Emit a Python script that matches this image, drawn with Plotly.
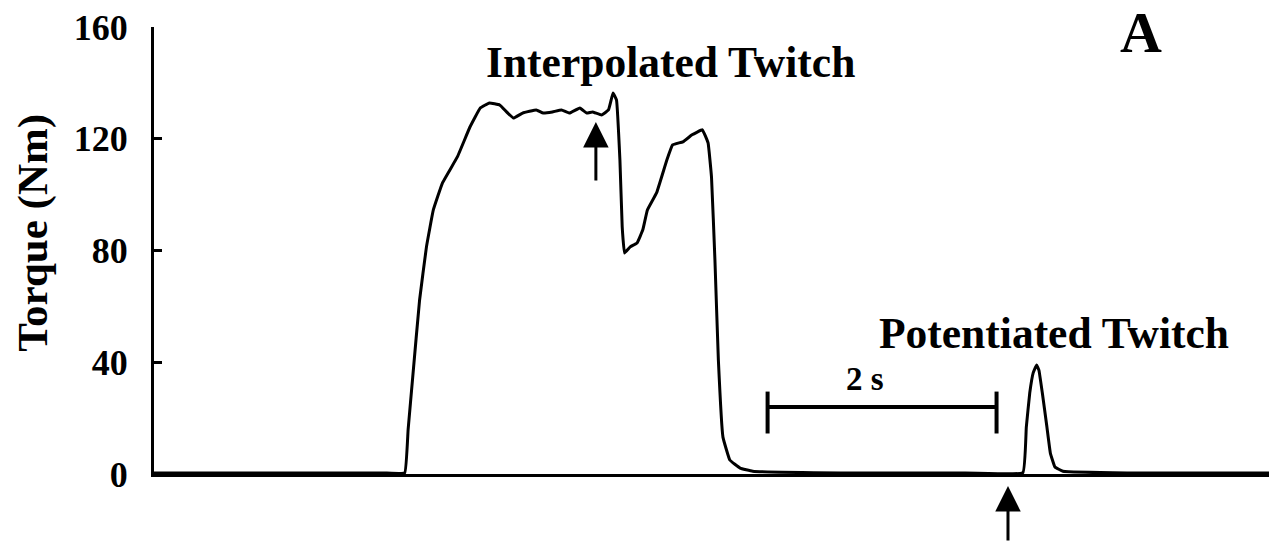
import plotly.graph_objects as go

# torque trace (time in s, torque in Nm)
time_s = [0.0, 1.0, 2.0, 2.19, 2.22, 2.26, 2.32, 2.38, 2.44, 2.52, 2.65, 2.76, 2.85, 2.93,
          3.02, 3.08, 3.14, 3.22, 3.34, 3.40, 3.48, 3.56, 3.63, 3.72, 3.78, 3.83,
          3.91, 3.97, 4.01, 4.04, 4.07, 4.09, 4.11, 4.16, 4.22, 4.27, 4.31, 4.39,
          4.48, 4.53, 4.62, 4.70, 4.79, 4.84, 4.87, 4.90, 4.93, 4.97, 5.03, 5.12,
          5.23, 6.0, 7.0, 7.59, 7.62, 7.65, 7.68, 7.71, 7.73, 7.76, 7.80, 7.83,
          7.87, 7.94, 8.5, 9.74]
torque_nm = [0.4, 0.4, 0.4, 0.4, 16.0, 34.7, 62.3, 81.3, 94.5, 104.2, 113.5, 124.2, 131.0, 132.8,
             132.1, 129.6, 127.4, 129.2, 130.3, 129.2, 129.6, 130.3, 129.2, 131.0, 129.2, 129.6,
             128.5, 130.3, 136.4, 133.9, 112.4, 88.4, 79.1, 81.3, 82.7, 87.4, 94.5, 100.6,
             112.4, 117.8, 118.9, 121.4, 123.2, 118.5, 106.3, 76.6, 40.8, 13.2, 5.0, 2.1,
             1.0, 0.4, 0.4, 0.5, 16.8, 29.0, 36.2, 39.0, 37.2, 29.0, 16.8, 7.5,
             2.5, 1.0, 0.4, 0.4]

y_ticks = [0, 40, 80, 120, 160]
x_max = 9.74

# scale bar (2 s)
bar_start = 5.36
bar_len = 2.0
bar_level = 24

font_family = "Liberation Serif, Times New Roman, serif"

fig = go.Figure()

fig.add_trace(go.Scatter(
    x=time_s,
    y=torque_nm,
    mode="lines",
    line=dict(color="black", width=3, shape="spline", smoothing=0.25),
    hoverinfo="skip",
    showlegend=False,
))

# scale bar with end caps
fig.add_shape(type="line", x0=bar_start, x1=bar_start + bar_len, y0=bar_level, y1=bar_level,
              line=dict(color="black", width=4))
for xe in [bar_start, bar_start + bar_len]:
    fig.add_shape(type="line", x0=xe, x1=xe, y0=bar_level - 9.5, y1=bar_level + 5.5,
                  line=dict(color="black", width=4))

bold = dict(family=font_family, color="black", size=43.5, weight="bold")

fig.add_annotation(x=4.51, y=147.5, text="Interpolated Twitch", showarrow=False, font=bold)
fig.add_annotation(x=7.86, y=50.5, text="Potentiated Twitch", showarrow=False, font=bold)
fig.add_annotation(x=6.21, y=34, text="2 s", showarrow=False,
                   font=dict(family=font_family, color="black", size=33, weight="bold"))
fig.add_annotation(x=8.62, y=158, text="A", showarrow=False,
                   font=dict(family=font_family, color="black", size=58, weight="bold"))

# arrows
fig.add_annotation(x=3.86, y=126, text="", showarrow=True, ax=0, ay=60,
                   arrowhead=2, arrowwidth=3, arrowsize=1.7, arrowcolor="black")
fig.add_annotation(x=7.46, xref="x", y=-0.027, yref="paper", text="", showarrow=True, ax=0, ay=62,
                   arrowhead=2, arrowwidth=3, arrowsize=1.7, arrowcolor="black")

# y axis title
fig.add_annotation(x=-0.1085, xref="paper", y=0.54, yref="paper", text="Torque (Nm)",
                   textangle=-90, showarrow=False, xanchor="center", yanchor="middle",
                   font=dict(family=font_family, color="black", size=43, weight="bold"))

fig.update_layout(
    width=1269,
    height=542,
    margin=dict(l=154, r=0, t=27, b=68),
    plot_bgcolor="white",
    paper_bgcolor="white",
    xaxis=dict(range=[0, x_max], showline=True, linewidth=3, linecolor="black",
               showgrid=False, zeroline=False, showticklabels=False, ticks=""),
    yaxis=dict(range=[0, 160], tickvals=y_ticks, showline=True, linewidth=3, linecolor="black",
               showgrid=False, zeroline=False, ticks="inside", ticklen=8, tickwidth=3,
               tickcolor="black", ticklabelstandoff=16,
               tickfont=dict(family=font_family, color="black", size=36, weight="bold")),
)

# drop the default 8px body margin so the figure sits at the page corner
fig.write_html("out.html", config={"displayModeBar": False},
               post_script="document.body.style.margin='0';")
